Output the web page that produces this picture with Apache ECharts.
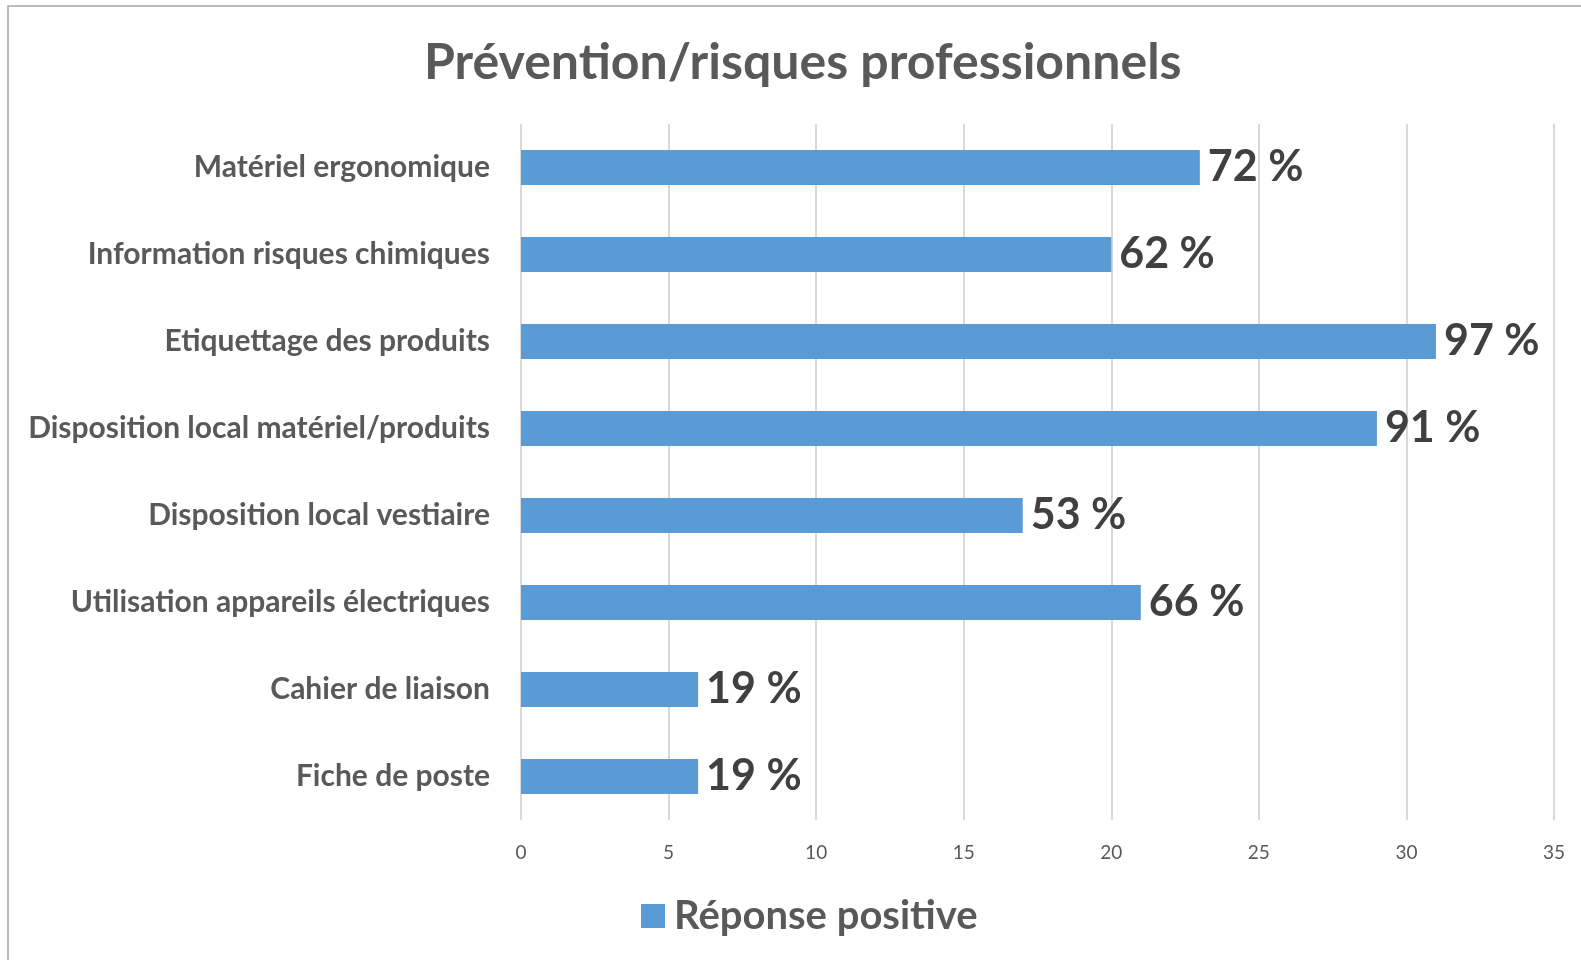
<!DOCTYPE html>
<html>
    <head>
        <meta charset="utf-8">
        <script src="https://cdnjs.cloudflare.com/ajax/libs/echarts/6.0.0/echarts.min.js"></script>
        <style>
            body { margin: 0; background: #fff; }
        </style>
    </head>
    <body>
    <div id="chart" style="width: 1581px;height:960px;"></div>
    <script>
        // données
        const categories = [
            'Matériel ergonomique',
            'Information risques chimiques',
            'Etiquettage des produits',
            'Disposition local matériel/produits',
            'Disposition local vestiaire',
            'Utilisation appareils électriques',
            'Cahier de liaison',
            'Fiche de poste'
        ];
        const reponses = [23, 20, 31, 29, 17, 21, 6, 6];
        const pourcentages = ['72 %', '62 %', '97 %', '91 %', '53 %', '66 %', '19 %', '19 %'];

        const font = 'Lato, "Open Sans", sans-serif';

        option = {
            animation: false,
            graphic: [{
                type: 'rect',
                shape: {x: 8, y: 6, width: 1600, height: 1000},
                style: {fill: 'none', stroke: '#a6a6a6', lineWidth: 1.5}
            }],
            title: {
                text: 'Prévention/risques professionnels',
                left: 419,
                top: 33,
                textStyle: {fontFamily: font, fontSize: 50, fontWeight: 'bold', color: '#595959'}
            },
            legend: {
                bottom: 19,
                left: 636,
                icon: 'rect',
                itemWidth: 24,
                itemHeight: 24,
                itemGap: 10,
                textStyle: {fontFamily: font, fontSize: 40, fontWeight: 'bold', color: '#595959', padding: [0, 0, 0, 4]},
                data: ['Réponse positive']
            },
            grid: {left: 521, right: 27, top: 124, bottom: 140},
            xAxis: {
                type: 'value',
                min: 0,
                max: 35,
                interval: 5,
                axisLine: {show: false},
                axisTick: {show: false},
                splitLine: {lineStyle: {color: '#d9d9d9', width: 2}},
                axisLabel: {fontFamily: font, fontSize: 19, color: '#595959', margin: 23}
            },
            yAxis: {
                type: 'category',
                inverse: true,
                data: categories,
                axisLine: {show: false},
                axisTick: {show: false},
                axisLabel: {fontFamily: font, fontSize: 30, fontWeight: 'bold', color: '#595959', margin: 31}
            },
            series: [{
                name: 'Réponse positive',
                type: 'bar',
                data: reponses,
                barWidth: 35,
                itemStyle: {color: '#5b9bd5'},
                label: {
                    show: true,
                    position: 'right',
                    distance: 8,
                    formatter: function (p) { return pourcentages[p.dataIndex]; },
                    fontFamily: font,
                    fontSize: 43,
                    fontWeight: 'bold',
                    color: '#404040'
                }
            }]
        };
        myChart = echarts.init(document.getElementById('chart'));
        myChart.setOption(option);
    </script>
    </body>
</html>
